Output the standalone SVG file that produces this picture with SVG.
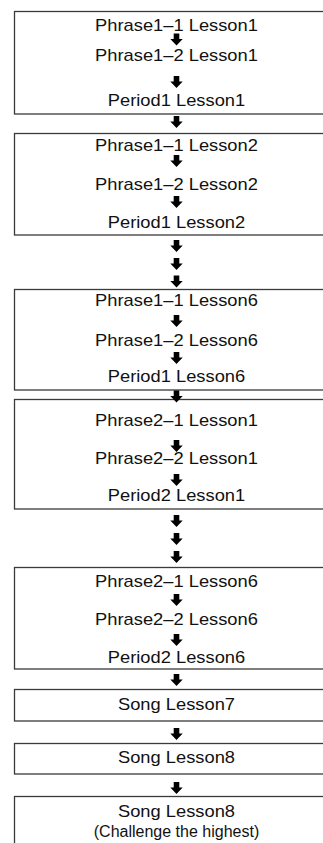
<svg xmlns="http://www.w3.org/2000/svg" width="323" height="843" viewBox="0 0 323 843">
<style>
.box{fill:#fff;stroke:#3a3a3a;stroke-width:1.3}
.t{font-family:"Liberation Sans",Arial,sans-serif;font-size:16px;fill:#111;text-anchor:middle}
</style>
<defs>
<path id="arr" d="M-2.8,0 H2.8 V5.5 H6.2 L0,12 L-6.2,5.5 H-2.8 Z" fill="#000"/>
</defs>
<rect width="323" height="843" fill="#fff"/>
<g id="box1">
<rect class="box" x="14.5" y="11.5" width="330" height="102.5"/>
<g transform="translate(176.5 0) scale(1.145 1)">
<text class="t" x="0" y="31">Phrase1–1 Lesson1</text>
<text class="t" x="0" y="61.5">Phrase1–2 Lesson1</text>
<text class="t" x="0" y="106.5">Period1 Lesson1</text>
</g>
</g>
<g id="box2">
<rect class="box" x="14.5" y="133.5" width="330" height="101.5"/>
<g transform="translate(176.5 0) scale(1.145 1)">
<text class="t" x="0" y="151">Phrase1–1 Lesson2</text>
<text class="t" x="0" y="190">Phrase1–2 Lesson2</text>
<text class="t" x="0" y="228">Period1 Lesson2</text>
</g>
</g>
<g id="box3">
<rect class="box" x="14.5" y="289.5" width="330" height="100.5"/>
<g transform="translate(176.5 0) scale(1.145 1)">
<text class="t" x="0" y="306.5">Phrase1–1 Lesson6</text>
<text class="t" x="0" y="346">Phrase1–2 Lesson6</text>
<text class="t" x="0" y="382">Period1 Lesson6</text>
</g>
</g>
<g id="box4">
<rect class="box" x="14.5" y="399.5" width="330" height="109.5"/>
<g transform="translate(176.5 0) scale(1.145 1)">
<text class="t" x="0" y="426.5">Phrase2–1 Lesson1</text>
<text class="t" x="0" y="464.5">Phrase2–2 Lesson1</text>
<text class="t" x="0" y="501.5">Period2 Lesson1</text>
</g>
</g>
<g id="box5">
<rect class="box" x="14.5" y="567.5" width="330" height="101.5"/>
<g transform="translate(176.5 0) scale(1.145 1)">
<text class="t" x="0" y="587">Phrase2–1 Lesson6</text>
<text class="t" x="0" y="625">Phrase2–2 Lesson6</text>
<text class="t" x="0" y="663">Period2 Lesson6</text>
</g>
</g>
<g id="song7">
<rect class="box" x="14.5" y="689.5" width="330" height="31.5"/>
<g transform="translate(176.5 0) scale(1.145 1)">
<text class="t" x="0" y="710">Song Lesson7</text>
</g>
</g>
<g id="song8">
<rect class="box" x="14.5" y="743.5" width="330" height="30.5"/>
<g transform="translate(176.5 0) scale(1.145 1)">
<text class="t" x="0" y="763.5">Song Lesson8</text>
</g>
</g>
<g id="song8c">
<rect class="box" x="14.5" y="796.5" width="330" height="60"/>
<g transform="translate(176.5 0) scale(1.145 1)">
<text class="t" x="0" y="817">Song Lesson8</text>
</g>
<text class="t" x="176.5" y="837">(Challenge the highest)</text>
</g>
<g id="connectors">
<use href="#arr" x="176.5" y="33.5"/>
<use href="#arr" x="176.5" y="76"/>
<use href="#arr" x="176.5" y="116"/>
<use href="#arr" x="176.5" y="155"/>
<use href="#arr" x="176.5" y="196"/>
<use href="#arr" x="176.5" y="240"/>
<use href="#arr" x="176.5" y="258"/>
<use href="#arr" x="176.5" y="275.5"/>
<use href="#arr" x="176.5" y="315"/>
<use href="#arr" x="176.5" y="352"/>
<use href="#arr" x="176.5" y="390.5"/>
<use href="#arr" x="176.5" y="440"/>
<use href="#arr" x="176.5" y="474"/>
<use href="#arr" x="176.5" y="515"/>
<use href="#arr" x="176.5" y="533"/>
<use href="#arr" x="176.5" y="551"/>
<use href="#arr" x="176.5" y="594"/>
<use href="#arr" x="176.5" y="634"/>
<use href="#arr" x="176.5" y="674"/>
<use href="#arr" x="176.5" y="728"/>
<use href="#arr" x="176.5" y="782"/>
</g>
</svg>
